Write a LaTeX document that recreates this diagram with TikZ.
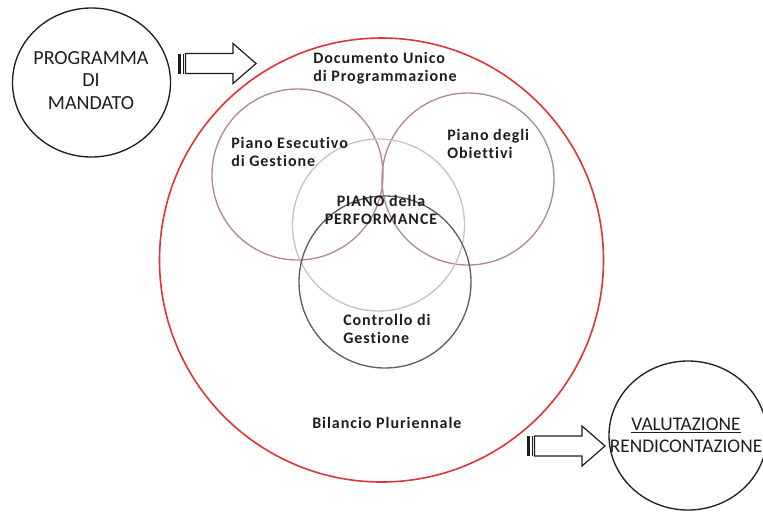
\documentclass[tikz,border=0pt]{standalone}
\usepackage{fontspec}
\setmainfont{Carlito}
\newfontfamily\lblfont[LetterSpace=6, Ligatures=NoCommon]{Carlito}
\usetikzlibrary{shapes.geometric}
\definecolor{redring}{RGB}{222,52,56}
\definecolor{rosering}{RGB}{178,138,138}
\definecolor{lightring}{RGB}{196,196,196}
\definecolor{darkring}{RGB}{95,95,95}
\definecolor{inkcol}{RGB}{30,30,30}
\tikzset{
  lbl/.style={inner sep=0pt, font=\lblfont\bfseries\fontsize{12}{13.5}\selectfont, text=inkcol, align=left},
  biglbl/.style={inner sep=0pt, font=\fontsize{15}{17}\selectfont, text=inkcol, align=center},
  ring/.style={line width=1pt},
  stripedarrow/.pic={
    \fill[inkcol] (0,-10) rectangle (3,10);
    \fill[inkcol] (4.5,-10) rectangle (6,10);
    \draw[line width=0.9pt, draw=inkcol, fill=white] (7.5,-10) -- (55,-10) -- (55,-20) -- (78,0) -- (55,20) -- (55,10) -- (7.5,10) -- cycle;
  }
}
\begin{document}
\begin{tikzpicture}[x=0.75pt, y=-0.75pt]
\useasboundingbox (0,0) rectangle (763,511);
% outer circles
\draw[ring, draw=inkcol] (91.5,82.5) ellipse [x radius=79, y radius=74.5];
\draw[ring, draw=inkcol] (688,435.5) ellipse [x radius=79, y radius=74.5];
% big red circle
\draw[line width=1.2pt, draw=redring] (381.5,260) circle [radius=222];
% inner circles
\draw[ring, draw=rosering] (297.5,174.5) circle [radius=85.5];
\draw[ring, draw=rosering] (468,179) circle [radius=86];
\draw[ring, draw=lightring] (378.5,225) circle [radius=86];
\draw[ring, draw=darkring] (385,282) circle [radius=86];
% arrows
\pic at (178,63.5) {stripedarrow};
\pic at (527,446) {stripedarrow};
% labels
\node[biglbl] (prog) at (91,80.5) {PROGRAMMA\\DI\\MANDATO};
\node[biglbl, font=\fontsize{14.5}{16.5}\selectfont] (valut) at (686,435.5) {\underline{VALUTAZIONE}\\RENDICONTAZIONE};
\node[lbl, anchor=west] (duc) at (313,68) {Documento Unico\\di Programmazione};
\node[lbl, anchor=west] (peg) at (231,152) {Piano Esecutivo\\di Gestione};
\node[lbl, anchor=west] (pdo) at (447,144) {Piano degli\\Obiettivi};
\node[lbl, align=center] (pdp) at (381,210) {PIANO della\\PERFORMANCE};
\node[lbl, anchor=west] (cdg) at (343,329) {Controllo di\\Gestione};
\node[lbl, anchor=west] (bil) at (312,423) {Bilancio Pluriennale};
\end{tikzpicture}
\end{document}
